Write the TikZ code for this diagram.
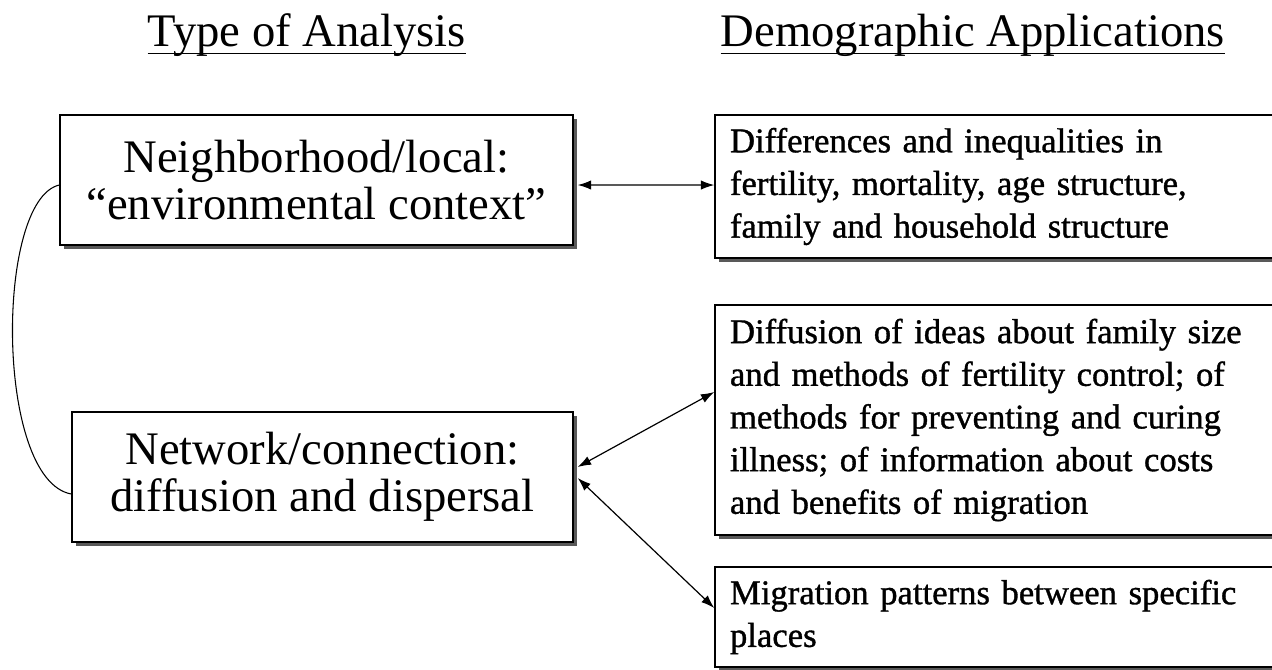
\documentclass[tikz,border=0pt]{standalone}
\usepackage{fontspec}
\setmainfont{Liberation Serif}
\newfontfamily\rfont[FakeBold=1]{Liberation Serif}
\usetikzlibrary{arrows.meta,shadows}
\begin{document}
\begin{tikzpicture}[x=0.75pt,y=-0.75pt,
  boxshadow/.style={drop shadow={shadow xshift=3pt,shadow yshift=-3pt,fill=black!65,opacity=1}},
  lbox/.style={draw=black,line width=1.1pt,fill=white,boxshadow,align=center,
    font=\fontsize{35}{35}\selectfont,inner sep=0pt},
  rbox/.style={draw=black,line width=1.1pt,fill=white,boxshadow,align=left,
    font=\rfont\fontsize{26}{32}\selectfont,inner xsep=11.25pt,inner ysep=0pt,text width=408.75pt},
  title/.style={font=\fontsize{35}{36}\selectfont,anchor=base,inner sep=0pt},
  link/.style={line width=0.9pt,{Latex[length=10pt,width=7pt]}-{Latex[length=10pt,width=7pt]}}
]
\useasboundingbox (0,0) rectangle (1272,669);
\fill[white] (0,0) rectangle (1272,669);

\node[title] (t1) at (307,46) {Type of Analysis};
\node[title] (t2) at (973,46) {Demographic Applications};
\draw[line width=1pt] ([yshift=-5.5pt]t1.base west) -- ([yshift=-5.5pt]t1.base east);
\draw[line width=1pt] ([yshift=-5.5pt]t2.base west) -- ([yshift=-5.5pt]t2.base east);

\node[lbox,minimum width=384.75pt,minimum height=97.5pt] (A) at (316.5,180)
  {Neighborhood/local:\\“environmental context”};
\node[lbox,minimum width=375.75pt,minimum height=97.5pt] (B) at (322.5,477)
  {Network/connection:\\diffusion and dispersal};

\node[rbox,minimum height=107.25pt] (C) at (1002.5,186.5)
  {Differences and inequalities in\\fertility, mortality, age structure,\\family and household structure};
\node[rbox,minimum height=172.5pt] (D) at (1002.5,420)
  {Diffusion of ideas about family size\\and methods of fertility control; of\\methods for preventing and curing\\illness; of information about costs\\and benefits of migration};
\node[rbox,minimum height=75pt] (E) at (1002.5,617)
  {Migration patterns between specific\\places};

\draw[link] ([xshift=3pt,yshift=-3.75pt]A.east) -- ([yshift=1.1pt]C.west);
\draw[link] ([xshift=3pt,yshift=7.5pt]B.east) -- ([yshift=21pt]D.west);
\draw[link] ([xshift=3pt,yshift=-0.75pt]B.east) -- ([yshift=6.75pt]E.west);

\draw[line width=0.8pt] ([yshift=-3.75pt]A.west) .. controls (-5,200) and (-5,480) .. ([yshift=-12.75pt]B.west);
\end{tikzpicture}
\end{document}
